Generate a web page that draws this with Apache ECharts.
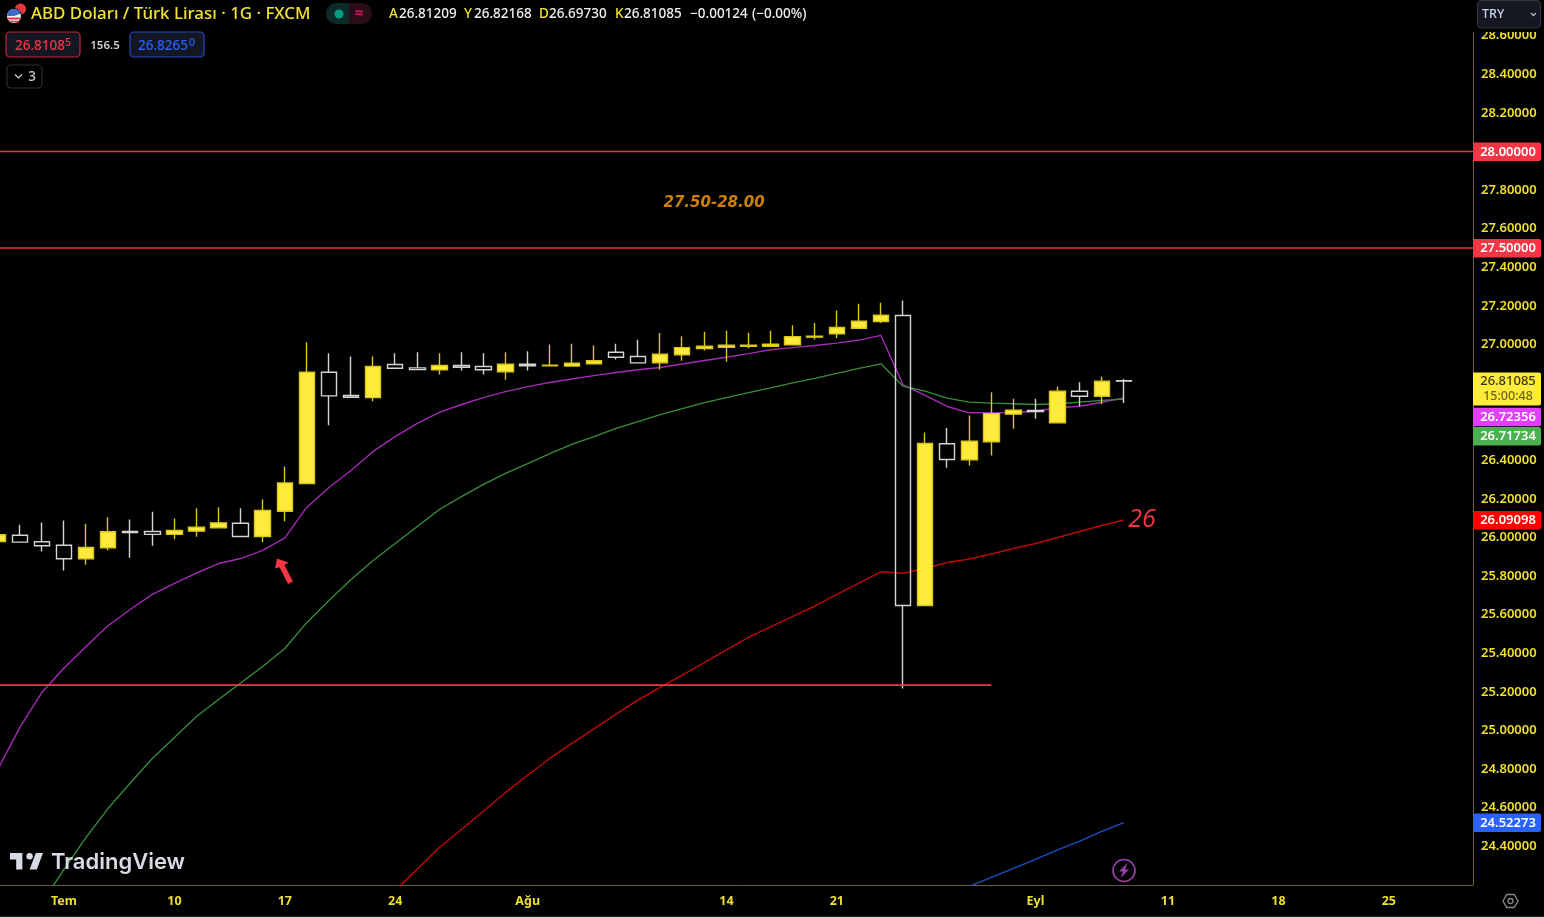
<!DOCTYPE html>
<html><head><meta charset="utf-8">
<style>html,body{margin:0;padding:0;background:#000;overflow:hidden}#c{width:1544px;height:917px}</style>
<script src="https://cdn.jsdelivr.net/npm/echarts@6/dist/echarts.min.js"></script>
</head><body><div id="c"></div>
<script>
// ---- data ----
const firstBar = -3;           // bar index of the first candle; 0 = "Tem"
const opens  = [25.979,26.012,25.978,25.960,25.890,25.947,26.031,26.031,26.016,26.033,26.050,26.074,26.005,26.136,26.280,26.856,26.736,26.725,26.896,26.879,26.869,26.891,26.886,26.859,26.898,26.890,26.888,26.900,26.960,26.938,26.905,26.947,26.979,26.986,26.991,26.991,26.998,27.038,27.055,27.084,27.119,27.150,25.648,26.486,26.403,26.496,26.639,26.658,26.594,26.758,26.732,26.81209];
const closes = [26.014,25.976,25.957,25.890,25.948,26.030,26.026,26.016,26.036,26.053,26.076,26.005,26.140,26.283,26.856,26.734,26.727,26.886,26.877,26.870,26.891,26.882,26.869,26.898,26.890,26.893,26.903,26.916,26.934,26.905,26.950,26.984,26.991,26.996,26.996,27.002,27.041,27.043,27.088,27.121,27.152,25.648,26.487,26.404,26.499,26.642,26.660,26.653,26.758,26.732,26.810,26.81085];
const lows   = [25.970,25.976,25.927,25.829,25.859,25.933,25.895,25.957,25.991,26.004,26.050,26.005,25.976,26.084,26.280,26.582,26.727,26.706,26.877,26.870,26.845,26.865,26.845,26.817,26.865,26.890,26.888,26.900,26.922,26.905,26.870,26.916,26.969,26.910,26.981,26.986,26.998,27.026,27.033,27.084,27.112,25.218,25.648,26.361,26.373,26.425,26.563,26.615,26.594,26.680,26.691,26.69730];
const highs  = [26.030,26.066,26.078,26.088,26.071,26.105,26.093,26.133,26.098,26.152,26.157,26.152,26.197,26.368,27.012,26.955,26.938,26.938,26.955,26.960,26.955,26.960,26.955,26.960,26.965,27.000,27.004,26.995,27.004,27.024,27.059,27.043,27.066,27.071,27.061,27.071,27.100,27.112,27.176,27.211,27.216,27.228,26.544,26.568,26.632,26.753,26.719,26.719,26.782,26.805,26.834,26.82168];

const purpleStart = -3;
const purpleValues = [24.798,25.016,25.197,25.324,25.435,25.544,25.627,25.705,25.762,25.816,25.865,25.891,25.933,25.998,26.157,26.259,26.347,26.446,26.523,26.591,26.648,26.689,26.725,26.756,26.782,26.803,26.821,26.839,26.855,26.869,26.881,26.899,26.917,26.934,26.953,26.973,26.984,26.995,27.007,27.023,27.047,26.791,26.736,26.679,26.646,26.646,26.648,26.654,26.672,26.680,26.701,26.72356];
const greenStart = -1;
const greenValues = [24.109,24.280,24.446,24.597,24.728,24.855,24.964,25.073,25.161,25.246,25.332,25.425,25.560,25.674,25.782,25.881,25.969,26.057,26.145,26.212,26.275,26.332,26.383,26.435,26.482,26.523,26.565,26.601,26.637,26.668,26.699,26.725,26.751,26.775,26.801,26.824,26.850,26.876,26.900,26.784,26.758,26.722,26.701,26.696,26.693,26.689,26.693,26.701,26.710,26.71734];
const redStart = 15;
const redValues = [24.171,24.282,24.394,24.487,24.583,24.679,24.768,24.855,24.933,25.008,25.085,25.158,25.223,25.287,25.352,25.418,25.483,25.537,25.591,25.644,25.705,25.764,25.822,25.815,25.839,25.870,25.889,25.915,25.943,25.969,26.000,26.031,26.062,26.09098];
const blueStart = 40;
const blueValues = [24.145,24.192,24.239,24.286,24.332,24.381,24.427,24.477,24.52273];

const upperLevel = 28.0, lowerLevel = 27.5, supportLevel = 25.235, supportEndBar = 42;
const xTickBars = [0,5,10,15,21,30,35,44,50,55,60];
const xTickLabels = ['Tem','10','17','24','Ağu','14','21','Eyl','11','18','25'];
const tagValues = [28.0,27.5,26.81085,26.72356,26.71734,26.09098,24.52273];
const zoneLabel = '27.50-28.00', zoneBar = 29.44, zoneValue = 27.735;

// ---- styles and layout ----
const W=1473, B=884.9, pxPerUnit=193;
const barPx=22.08, bar0Px=64;
const xMin=-bar0Px/barPx, xMax=(W-bar0Px)/barPx;
const yMin=24.2, yMax=28.78;
const AX='#6e6510', YEL='#efdf2e', RED='#f23645';
const UI='"Noto Sans","Open Sans",sans-serif';
const tagFill=[RED,RED,'#ffeb3b','#e040fb','#4caf50','#ff0000','#2962ff'];
const tagText=['#fff','#fff','#3a3608','#fff','#fff','#fff','#fff'];
const tagShift=[0,0,0,19,37,0,0];

const toSeries=(start,vals)=>vals.map((v,i)=>[start+i,v]);
const line=(name,data,color,width,z)=>({type:'line',name,data,showSymbol:false,symbol:'none',silent:true,z:z||3,
  lineStyle:{color,width},clip:true});

const candles=opens.map((o,i)=>[firstBar+i,o,closes[i],lows[i],highs[i]]);

function txt(text,x,y,fill,font,align){return {type:'text',z:100,silent:true,style:{text,x,y,fill,font,textAlign:align||'left',textVerticalAlign:'middle'}};}
const rect=(x,y,w,h,fill,stroke,r)=>({type:'rect',z:100,silent:true,shape:{x,y,width:w,height:h,r:r||0},style:{fill,stroke:stroke||null,lineWidth:stroke?1.2:0}});
const logoX=x=>10+(x-2)*33/32, logoY=y=>853+(y-6)*1.1;
const logoPts=pts=>pts.map(p=>[logoX(p[0]),logoY(p[1])]);

const ohlcFont='500 13.5px '+UI;
const gfx=[
  rect(1440,0,104,32,'#000'),
  // flag icon
  {type:'circle',z:100,silent:true,shape:{cx:20.5,cy:9,r:5.5},style:{fill:'#e8393f'}},
  {type:'circle',z:100,silent:true,shape:{cx:14,cy:16,r:7.5},style:{fill:'#f2f2f2',stroke:'#000',lineWidth:1}},
  {type:'rect',z:100,silent:true,shape:{x:7.6,y:17.5,width:12.8,height:2},style:{fill:'#d8414a'}},
  {type:'rect',z:100,silent:true,shape:{x:9,y:20.7,width:10,height:1.6},style:{fill:'#d8414a'}},
  {type:'sector',z:100,silent:true,shape:{cx:14,cy:16,r:7,r0:0,startAngle:Math.PI,endAngle:Math.PI*1.9},style:{fill:'#3f6bc4'}},
  txt('ABD Doları / Türk Lirası · 1G · FXCM',31,14.5,'#f2e330','500 16.9px '+UI),
  // status pill
  {type:'rect',z:100,silent:true,shape:{x:326,y:3,width:24,height:21,r:[10,0,0,10]},style:{fill:'#0c2a27'}},
  {type:'rect',z:100,silent:true,shape:{x:349,y:3,width:23,height:21,r:[0,10,10,0]},style:{fill:'#2a0d18'}},
  {type:'circle',z:100,silent:true,shape:{cx:339,cy:14,r:4.5},style:{fill:'#089981'}},
  txt('≈',359,13.5,'#d81b60','bold 15px '+UI,'center'),
  // OHLC
  txt('A',389,14.5,'#f2e330',ohlcFont), txt('26.81209',399,14.5,'#f0f0f0',ohlcFont),
  txt('Y',464,14.5,'#f2e330',ohlcFont), txt('26.82168',474,14.5,'#f0f0f0',ohlcFont),
  txt('D',539,14.5,'#f2e330',ohlcFont), txt('26.69730',549,14.5,'#f0f0f0',ohlcFont),
  txt('K',615,14.5,'#f2e330',ohlcFont), txt('26.81085',624,14.5,'#f0f0f0',ohlcFont),
  txt('−0.00124',690,14.5,'#f0f0f0',ohlcFont), txt('(−0.00%)',752,14.5,'#f0f0f0',ohlcFont),
  // bid / ask
  rect(6,32,74,25,'#131722','#c4283a',4),
  txt('26.8108',15,46,RED,'500 13.5px '+UI), txt('5',65,43.5,RED,'500 10.5px '+UI),
  txt('156.5',105,45.5,'#d0d0d0','600 11.5px '+UI,'center'),
  rect(130,32,74,25,'#131722','#2448c8',4),
  txt('26.8265',138,46,'#2962ff','500 13.5px '+UI), txt('0',189,43.5,'#2962ff','500 10.5px '+UI),
  // collapsed legend
  rect(7,65,35,23,'#000','#2a2e39',4),
  {type:'polyline',z:100,silent:true,shape:{points:[[15,74.5],[18.5,78],[22,74.5]]},style:{stroke:'#d1d4dc',lineWidth:1.2,fill:null}},
  txt('3',32,77,'#c8c8c8','500 13.5px '+UI,'center'),
  // currency selector
  rect(1477.5,0.5,63,27.5,'#151822','#30343f',4),
  txt('TRY',1482,14.5,'#c9d6e6','500 12.5px '+UI),
  {type:'polyline',z:100,silent:true,shape:{points:[[1531,13],[1533.5,15.5],[1536,13]]},style:{stroke:'#b8bcc8',lineWidth:1.3,fill:null}},
  // annotations
  txt('26',1142,520,RED,'italic 400 25px "Open Sans",'+UI,'center'),
  {type:'polygon',z:100,silent:true,shape:{points:[[277,558.5],[275,568.5],[279.5,567.3],[288,584],[293,581.5],[284.5,565],[288.5,562.5]]},style:{fill:RED}},
  // logo
  {type:'polygon',z:100,silent:true,shape:{points:logoPts([[2,6],[14,6],[14,21],[8,21],[8,12],[2,12]])},style:{fill:'#d8dbe3'}},
  {type:'polygon',z:100,silent:true,shape:{points:logoPts([[27,6],[34,6],[28,21],[21,21]])},style:{fill:'#d8dbe3'}},
  {type:'circle',z:100,silent:true,shape:{cx:logoX(21),cy:logoY(9),r:3.2},style:{fill:'#d8dbe3'}},
  txt('TradingView',51,862,'#d8dbe3','600 22px Inter,'+UI),
  // lightning
  {type:'circle',z:100,silent:true,shape:{cx:1124,cy:870.5,r:11},style:{fill:'#000',stroke:'#9c3fb0',lineWidth:1.6}},
  {type:'polygon',z:100,silent:true,shape:{points:[[1127.5,862.5],[1119,871.5],[1123,871.5],[1120.5,878],[1129,869.5],[1125,869.5]]},style:{fill:'#9c3fb0'}},
  // settings
  {type:'polygon',z:100,silent:true,shape:{points:[[1503,901],[1506.8,894.5],[1514.2,894.5],[1518,901],[1514.2,907.5],[1506.8,907.5]]},style:{fill:null,stroke:'#8a8a8a',lineWidth:1.3}},
  {type:'circle',z:100,silent:true,shape:{cx:1510.5,cy:901,r:2.5},style:{fill:null,stroke:'#8a8a8a',lineWidth:1.3}},
  rect(0,916,1544,1,'#22262e'),
];

const option={
  animation:false,backgroundColor:'#000',
  grid:{left:0,top:B-(yMax-yMin)*pxPerUnit,width:W,height:(yMax-yMin)*pxPerUnit,containLabel:false},
  xAxis:{type:'value',min:xMin,max:xMax,splitLine:{show:false},
    axisLine:{show:true,onZero:false,lineStyle:{color:AX,width:1}},axisTick:{show:false},
    axisLabel:{color:YEL,fontFamily:UI,fontSize:12.5,fontWeight:700,margin:10,
      customValues:xTickBars,formatter:v=>xTickLabels[xTickBars.indexOf(Math.round(v))]||''}},
  yAxis:{type:'value',position:'right',min:yMin,max:yMax,interval:0.2,scale:true,splitLine:{show:false},
    axisLine:{show:true,onZero:false,lineStyle:{color:AX,width:1}},axisTick:{show:false},
    axisLabel:{color:YEL,fontFamily:UI,fontSize:13,fontWeight:600,margin:8,showMinLabel:false,showMaxLabel:false,
      formatter:v=>v.toFixed(5)}},
  series:[
    line('EMA fast',toSeries(purpleStart,purpleValues),'#a32ab5',1.4),
    line('EMA mid',toSeries(greenStart,greenValues),'#388e3c',1.3),
    line('EMA slow',toSeries(redStart,redValues),'#b80808',1.5),
    line('EMA long',toSeries(blueStart,blueValues),'#1a4fc4',1.4),
    {type:'candlestick',z:5,silent:true,barWidth:16,clip:true,data:candles,
      itemStyle:{color:'#ffeb3b',color0:'rgba(0,0,0,0)',borderColor:'#d8c61c',borderColor0:'#d4d4d4',borderWidth:1.4}},
    line('28',[[xMin,upperLevel],[xMax,upperLevel]],RED,1.3,6),
    line('27.5',[[xMin,lowerLevel],[xMax,lowerLevel]],RED,1.3,6),
    line('support',[[xMin,supportLevel],[supportEndBar,supportLevel]],RED,1.8,6),
    {type:'scatter',z:7,silent:true,symbolSize:0,data:[[zoneBar,zoneValue]],
      label:{show:true,position:'inside',formatter:zoneLabel,color:'#ffa000',fontFamily:'"DejaVu Sans"',fontStyle:'italic',fontWeight:'bold',fontSize:15}},
    {type:'custom',z:50,silent:true,clip:false,data:tagValues.map(v=>[xMax,v]),
      renderItem:(p,api)=>{
        const i=p.dataIndex, c=api.coord([xMax,api.value(1)]);
        const y=c[1]+tagShift[i], x=c[0];
        const twoRow=i===2;
        const top=twoRow?y-8.5:y-9, h=twoRow?33:18.5;
        const kids=[{type:'rect',shape:{x,y:top,width:68,height:h,r:[0,2,2,0]},style:{fill:tagFill[i]}},
          {type:'text',style:{x:x+35,y:twoRow?y:y+0.3,text:tagValues[i].toFixed(5),fill:tagText[i],textAlign:'center',textVerticalAlign:'middle',font:(i===2?'500 ':'600 ')+'13px '+UI}}];
        if(twoRow) kids.push({type:'text',style:{x:x+35,y:y+15.5,text:'15:00:48',fill:'#6f6714',textAlign:'center',textVerticalAlign:'middle',font:'500 12.5px '+UI}});
        return {type:'group',children:kids};
      }},
  ],
  graphic:{elements:gfx}
};
const chart=echarts.init(document.getElementById('c'),null,{renderer:'canvas',width:1544,height:917});
chart.setOption(option);
</script></body></html>
